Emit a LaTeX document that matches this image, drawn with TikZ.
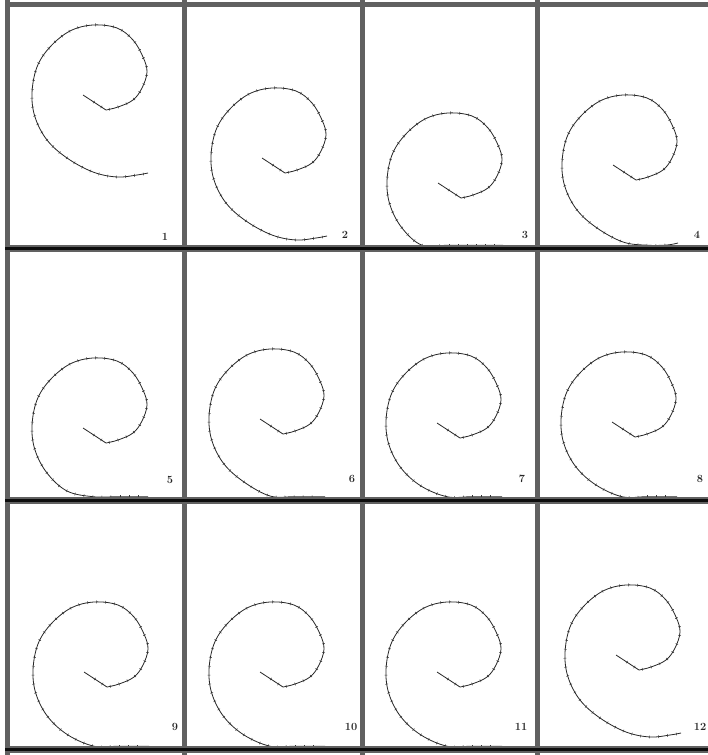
\documentclass[tikz,border=0pt]{standalone}
\usetikzlibrary{decorations.markings}
\begin{document}
\begin{tikzpicture}[x=1pt,y=-1pt,
  spiralline/.style={draw=black!85, line width=0.8pt, line join=round,
    postaction={decorate},
    decoration={markings, mark=between positions 0.03 and 0.99 step 9pt with {\draw[black!80,line width=0.5pt] (0,-1.4pt)--(0,1.4pt);}}},
  numlabel/.style={font=\fontsize{11}{11}\selectfont\bfseries, text=black!85, inner sep=0pt},
  vline/.style={draw=black!62, line width=5pt},
  hline/.style={draw=black!62, line width=7pt},
  hcore/.style={draw=black!95, line width=3pt}]
\useasboundingbox (0,0) rectangle (708,755);
\fill[white] (0,0) rectangle (708,755);
% spirals, clipped to their panels
\foreach \n/\cx/\cy/\xa/\xb/\ya/\yb/\nx/\ny in {
  1/83/95/7.5/184/4.5/248.5/165/237,
  2/262/158/184/362/4.5/248.5/345/235,
  3/438/183/362/537.5/4.5/248.5/525/235,
  4/613/165/537.5/708/4.5/248.5/697/235,
  5/83/428/7.5/184/248.5/500/170/480,
  6/260/419/184/362/248.5/500/352/479,
  7/437/423/362/537.5/248.5/500/522/479,
  8/612/422/537.5/708/248.5/500/700/479,
  9/84/672/7.5/184/500/749.5/175/727,
  10/260/672/184/362/500/749.5/351/727,
  11/437/672/362/537.5/500/749.5/521/727,
  12/616/655/537.5/708/500/749.5/700/727}{
  \pgfmathsetmacro\lim{\yb-\cy-3.3}
  \begin{scope}
    \clip (\xa,\ya) rectangle (\xb,\yb);
    \begin{scope}[shift={(\cx,\cy)}]
      \draw[spiralline] (0,0) -- plot[smooth,tension=0.6] coordinates {(23,15) (35,12) (50,5) (59,-7) (64,-23) (60,-38) (50,-55) (34,-67) (10,-70) (-13,-64) (-33,-48) (-46,-28) (-51,-2) (-48,{min(22,\lim)}) (-36,{min(45,\lim)}) (-16,{min(63,\lim)}) (10,{min(77,\lim)}) (34,{min(82,\lim)}) (54,{min(80,\lim)}) (65,{min(78,\lim)})};
    \end{scope}
  \end{scope}
  \node[numlabel] (n\n) at (\nx,\ny) {\n};
}
% grid frame
\foreach \x in {7.5,184,362,537.5}{
  \draw[vline] (\x,0) -- (\x,755);
}
\draw[vline] (5,4.5) -- (708,4.5);
\foreach \y in {248.5,500,749.5}{
  \draw[hline] (5,\y) -- (708,\y);
  \draw[hcore] (5,\y) -- (708,\y);
}
\end{tikzpicture}
\end{document}
